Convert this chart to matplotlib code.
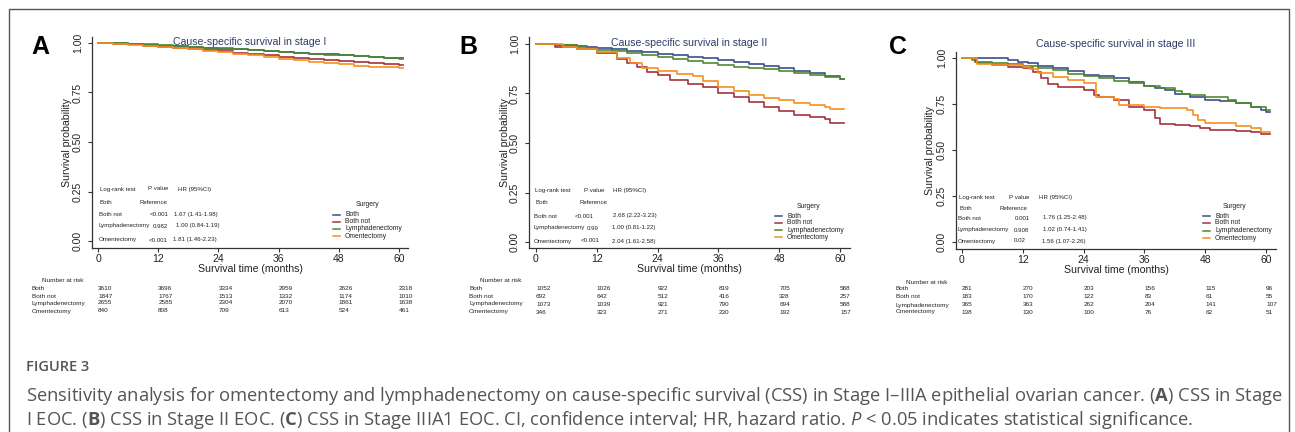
"""
Figure 3 recreation: cause-specific survival (CSS) by surgery group, stage I / II / III
Kaplan-Meier step curves + log-rank table + number-at-risk table (Stata look)
"""

import matplotlib.pyplot as plt
from matplotlib.lines import Line2D
from matplotlib.patches import Rectangle
from matplotlib.transforms import blended_transform_factory

plt.rcParams["font.family"] = ["Liberation Sans", "DejaVu Sans"]
plt.rcParams["mathtext.fontset"] = "custom"
plt.rcParams["mathtext.rm"] = "Open Sans"
plt.rcParams["mathtext.bf"] = "Open Sans:bold"
plt.rcParams["mathtext.it"] = "Open Sans:italic"

# ── 공통 ────────────────────────────────────────────────────────────────
GROUPS = ["Both", "Both not", "Lymphadenectomy", "Omentectomy"]
COLORS = {
    "Both":            "#3b4e8c",
    "Both not":        "#a3323f",
    "Lymphadenectomy": "#4f8a2d",
    "Omentectomy":     "#f5901e",
}
RISK_TIMES = [0, 12, 24, 36, 48, 60]
X_TICKS = [0, 12, 24, 36, 48, 60]
Y_TICKS = [0.0, 0.25, 0.5, 0.75, 1.0]

# ── Panel A: stage I ────────────────────────────────────────────────────
TITLE_A = "Cause-specific survival in stage I"
T_A = [0, 3, 6, 9, 12, 15, 18, 21, 24, 27, 30, 33, 36, 39, 42, 45, 48, 51, 54, 57, 60, 60.8]
S_A_BOTH  = [1, .998, .995, .991, .987, .983, .979, .975, .971, .967, .963, .958, .954, .950, .946, .942, .938, .934, .930, .926, .923, .922]
S_A_NOT   = [1, .997, .993, .987, .980, .975, .969, .963, .957, .951, .945, .938, .930, .923, .917, .912, .907, .902, .897, .893, .889, .888]
S_A_LYMPH = [1, .999, .997, .993, .989, .985, .981, .977, .973, .969, .965, .960, .955, .951, .946, .941, .937, .932, .928, .924, .920, .919]
S_A_OMEN  = [1, .997, .992, .986, .979, .973, .967, .960, .953, .946, .938, .930, .921, .913, .906, .899, .892, .886, .881, .877, .874, .872]
RISK_A = {
    "Both":            [3610, 3696, 3334, 2959, 2626, 2318],
    "Both not":        [1847, 1767, 1513, 1332, 1174, 1010],
    "Lymphadenectomy": [2655, 2585, 2304, 2070, 1861, 1638],
    "Omentectomy":     [840, 808, 709, 613, 524, 461],
}
P_A  = ["<0.001", "0.982", "<0.001"]
HR_A = ["1.67 (1.41-1.98)", "1.00 (0.84-1.19)", "1.81 (1.46-2.23)"]

# ── Panel B: stage II ───────────────────────────────────────────────────
TITLE_B = "Cause-specific survival in stage II"
T_B_BOTH  = [0, 4, 6, 8, 10, 12, 15, 18, 21, 24, 27, 30, 33, 36, 39, 42, 45, 48, 51, 54, 57, 60, 60.8]
S_B_BOTH  = [1, .997, .994, .990, .985, .978, .972, .965, .957, .949, .942, .935, .927, .919, .910, .899, .888, .877, .865, .851, .837, .825, .823]
T_B_LYMPH = [0, 4, 6, 8, 10, 12, 15, 18, 21, 24, 27, 30, 33, 36, 39, 42, 45, 48, 51, 54, 57, 60, 60.8]
S_B_LYMPH = [1, .996, .993, .987, .979, .970, .962, .952, .942, .933, .922, .912, .903, .894, .886, .879, .872, .865, .855, .845, .835, .825, .823]
T_B_NOT   = [0, 3.7, 8, 12, 16, 18, 20, 22, 24, 26.5, 30, 33, 36, 39, 42, 45, 48, 51, 54, 57, 58, 60.8]
S_B_NOT   = [1, .987, .973, .953, .923, .906, .886, .860, .843, .818, .798, .781, .751, .731, .709, .680, .662, .641, .630, .620, .603, .603]
T_B_OMEN  = [0, 5.4, 8, 12, 16, 18.5, 21, 24, 27.8, 31, 33, 36, 39, 42, 45, 48, 51, 54, 57, 58, 60.8]
S_B_OMEN  = [1, .987, .976, .961, .928, .902, .877, .865, .848, .838, .813, .785, .760, .742, .729, .717, .700, .690, .683, .673, .673]
RISK_B = {
    "Both":            [1052, 1026, 922, 819, 705, 588],
    "Both not":        [692, 642, 512, 416, 328, 257],
    "Lymphadenectomy": [1073, 1039, 921, 790, 694, 588],
    "Omentectomy":     [346, 323, 271, 230, 192, 157],
}
P_B  = ["<0.001", "0.99", "<0.001"]
HR_B = ["2.68 (2.22-3.23)", "1.00 (0.81-1.22)", "2.04 (1.61-2.58)"]

# ── Panel C: stage III ──────────────────────────────────────────────────
TITLE_C = "Cause-specific survival in stage III"
T_C_BOTH  = [0, 9, 11, 13, 15, 18, 21, 24, 27, 30, 33, 36, 38, 40, 42, 45, 48, 51, 54, 57, 59, 60, 60.8]
S_C_BOTH  = [1, .990, .980, .971, .955, .944, .930, .908, .900, .890, .868, .848, .840, .826, .804, .790, .772, .765, .754, .732, .720, .705, .705]
T_C_LYMPH = [0, 2, 3, 6, 9, 12, 15, 18, 21, 24, 27, 30, 33, 36, 39, 42, 43.5, 45, 48, 51, 52.5, 54, 57, 60, 60.8]
S_C_LYMPH = [1, .990, .980, .975, .967, .957, .947, .935, .915, .902, .890, .877, .862, .848, .835, .822, .805, .800, .790, .786, .772, .754, .732, .717, .717]
T_C_NOT   = [0, 2.5, 3, 6, 9, 12, 14, 15.5, 17, 19, 24, 26, 27, 30, 33, 36, 38, 39, 42, 45, 47, 49, 54, 57, 59, 60.8]
S_C_NOT   = [1, .980, .971, .962, .953, .944, .926, .890, .857, .841, .826, .800, .790, .772, .736, .717, .672, .641, .636, .630, .618, .609, .605, .600, .587, .587]
T_C_OMEN  = [0, 3, 6, 12, 13.5, 15, 18, 21, 24, 26.5, 30, 31, 36, 39, 44.5, 45.5, 46.5, 48, 54, 57, 59, 60.8]
S_C_OMEN  = [1, .967, .962, .953, .940, .920, .895, .880, .862, .790, .780, .745, .736, .726, .720, .690, .663, .649, .630, .618, .598, .598]
RISK_C = {
    "Both":            [281, 270, 203, 156, 115, 96],
    "Both not":        [183, 170, 122, 83, 61, 55],
    "Lymphadenectomy": [365, 363, 262, 204, 141, 107],
    "Omentectomy":     [138, 130, 100, 76, 62, 51],
}
P_C  = ["0.001", "0.908", "0.02"]
HR_C = ["1.76 (1.25-2.48)", "1.02 (0.74-1.41)", "1.56 (1.07-2.26)"]

CAPTION_HEAD = "FIGURE 3"
CAPTION_1 = ("Sensitivity analysis for omentectomy and lymphadenectomy on cause-specific survival (CSS) "
             "in Stage I\u2013IIIA epithelial ovarian cancer. ($\\mathbf{A}$) CSS in Stage")
CAPTION_2 = ("I EOC. ($\\mathbf{B}$) CSS in Stage II EOC. ($\\mathbf{C}$) CSS in Stage IIIA1 EOC. "
             "CI, confidence interval; HR, hazard ratio. $\\mathit{P}$ < 0.05 indicates statistical significance.")

# ── 레이아웃 (pixel 좌표) ──────────────────────────────────────────────────
W, H = 1295, 432

def fx(x):
    return x / W

def fy(y):
    return 1 - y / H

PANELS = [
    dict(letter="A", title=TITLE_A,
         curves=[(T_A, S_A_BOTH), (T_A, S_A_NOT), (T_A, S_A_LYMPH), (T_A, S_A_OMEN)],
         risk=RISK_A, p=P_A, hr=HR_A,
         box=(92, 37, 408, 248), xlim=(-1.2, 61.8), ylim=(-0.035, 1.030),
         letter_xy=(40, 47), title_y=42, xlabel_y=264, ylabel_x=67,
         risk_head=(63, 281), risk_lab_x=32, risk_rows=[288, 296, 303, 311],
         lr_rows=[189, 203, 215, 226, 240], lr_lab_x=100, lr_head_p=148, lr_head_hr=178,
         lr_ref_x=139, lr_p_x=[150, 153, 149], lr_hr_x=[174, 176, 173],
         leg_title=(367, 205), leg_x=333, leg_rows=[215, 222, 229, 236]),
    dict(letter="B", title=TITLE_B,
         curves=[(T_B_BOTH, S_B_BOTH), (T_B_NOT, S_B_NOT), (T_B_LYMPH, S_B_LYMPH), (T_B_OMEN, S_B_OMEN)],
         risk=RISK_B, p=P_B, hr=HR_B,
         box=(529, 37, 850, 248), xlim=(-1.38, 61.97), ylim=(-0.030, 1.035),
         letter_xy=(468, 47), title_y=43, xlabel_y=264, ylabel_x=505,
         risk_head=(501, 281), risk_lab_x=469, risk_rows=[289, 296, 304, 312],
         lr_rows=[190, 203, 216, 228, 241], lr_lab_x=535, lr_head_p=584, lr_head_hr=613,
         lr_ref_x=579, lr_p_x=[575, 587, 581], lr_hr_x=[613, 612, 612],
         leg_title=(808, 206), leg_x=775, leg_rows=[216, 223, 230, 237]),
    dict(letter="C", title=TITLE_C,
         curves=[(T_C_BOTH, S_C_BOTH), (T_C_NOT, S_C_NOT), (T_C_LYMPH, S_C_LYMPH), (T_C_OMEN, S_C_OMEN)],
         risk=RISK_C, p=P_C, hr=HR_C,
         box=(956, 52, 1276, 249), xlim=(-1.18, 61.97), ylim=(-0.038, 1.033),
         letter_xy=(898, 47), title_y=44, xlabel_y=265, ylabel_x=930,
         risk_head=(927, 282), risk_lab_x=896, risk_rows=[289, 297, 305, 312],
         lr_rows=[198, 209, 218, 230, 241], lr_lab_x=959, lr_head_p=1009, lr_head_hr=1039,
         lr_ref_x=1000, lr_p_x=[1015, 1014, 1014], lr_hr_x=[1043, 1043, 1042],
         leg_title=(1234, 206), leg_x=1203, leg_rows=[216, 223, 231, 238]),
]

TICK_FS = 7.5
LABEL_FS = 7.6
SMALL_FS = 4.6
LR_FS = 4.4
TEXT_C = "#222222"

fig = plt.figure(figsize=(W / 100, H / 100), dpi=100)
fig.patch.set_facecolor("white")

# 외곽 박스
fig.add_artist(Rectangle((fx(9), -0.1), fx(1289) - fx(9), fy(9) + 0.1,
                         transform=fig.transFigure, fill=False,
                         edgecolor="#555555", linewidth=1.0, clip_on=False))

for pn in PANELS:
    x0, y0, x1, y1 = pn["box"]
    ax = fig.add_axes([fx(x0), fy(y1), fx(x1) - fx(x0), fy(y0) - fy(y1)])
    ax.patch.set_alpha(0)

    for g, (t, s) in zip(GROUPS, pn["curves"]):
        ax.step(t, s, where="post", color=COLORS[g], linewidth=1.2)

    ax.set_xlim(*pn["xlim"])
    ax.set_ylim(*pn["ylim"])
    ax.set_xticks(X_TICKS)
    ax.set_yticks(Y_TICKS)
    ax.set_yticklabels([f"{v:.2f}" for v in Y_TICKS])
    ax.tick_params(direction="out", length=3, width=0.8, color="#333333",
                   labelsize=TICK_FS, labelcolor=TEXT_C)
    ax.tick_params(axis="x", pad=1.5)
    ax.tick_params(axis="y", pad=3.5)
    plt.setp(ax.get_yticklabels(), rotation=90, va="center")
    for side in ["top", "right"]:
        ax.spines[side].set_visible(False)
    for side in ["left", "bottom"]:
        ax.spines[side].set_color("#333333")
        ax.spines[side].set_linewidth(0.9)

    # 축 제목
    ax.set_xlabel("Survival time (months)", fontsize=LABEL_FS, color=TEXT_C)
    ax.xaxis.set_label_coords(0.5, -(pn["xlabel_y"] - y1) / (y1 - y0))
    ax.set_ylabel("Survival probability", fontsize=LABEL_FS, color=TEXT_C, va="center")
    ax.yaxis.set_label_coords(-(x0 - pn["ylabel_x"]) / (x1 - x0), 0.5)

    ax.text(0.5, (y1 - pn["title_y"]) / (y1 - y0), pn["title"], transform=ax.transAxes,
            ha="center", va="center", fontsize=LABEL_FS, color="#2e3b66")

    lx, ly = pn["letter_xy"]
    fig.text(fx(lx), fy(ly), pn["letter"], fontsize=18, fontweight="bold",
             ha="center", va="center", color="black", family="Liberation Sans")

    # log-rank 표
    r = pn["lr_rows"]
    fs = LR_FS
    fig.text(fx(pn["lr_lab_x"]), fy(r[0]), "Log-rank test", fontsize=fs, va="center", color=TEXT_C)
    fig.text(fx(pn["lr_head_p"]), fy(r[0]), "P value", fontsize=fs, va="center", color=TEXT_C)
    fig.text(fx(pn["lr_head_hr"]), fy(r[0]), "HR (95%CI)", fontsize=fs, va="center", color=TEXT_C)
    fig.text(fx(pn["lr_lab_x"]), fy(r[1]), "Both", fontsize=fs, va="center", color=TEXT_C)
    fig.text(fx(pn["lr_ref_x"]), fy(r[1]), "Reference", fontsize=fs, va="center", color=TEXT_C)
    for i, g in enumerate(GROUPS[1:]):
        fig.text(fx(pn["lr_lab_x"] - 1), fy(r[i + 2]), g, fontsize=fs, va="center", color=TEXT_C)
        fig.text(fx(pn["lr_p_x"][i]), fy(r[i + 2]), pn["p"][i], fontsize=fs, va="center", color=TEXT_C)
        fig.text(fx(pn["lr_hr_x"][i]), fy(r[i + 2]), pn["hr"][i], fontsize=fs, va="center", color=TEXT_C)

    # 범례 (Surgery)
    tx, tyy = pn["leg_title"]
    fig.text(fx(tx), fy(tyy), "Surgery", fontsize=SMALL_FS + 0.3, ha="center", va="center", color=TEXT_C)
    for g, ry in zip(GROUPS, pn["leg_rows"]):
        fig.add_artist(Line2D([fx(pn["leg_x"]), fx(pn["leg_x"] + 7)], [fy(ry), fy(ry)],
                              transform=fig.transFigure, color=COLORS[g], linewidth=1.1))
        fig.text(fx(pn["leg_x"] + 12), fy(ry), g, fontsize=SMALL_FS + 0.3, va="center", color=TEXT_C)

    # number at risk
    hx, hy = pn["risk_head"]
    fig.text(fx(hx), fy(hy), "Number at risk", fontsize=SMALL_FS, ha="center", va="center", color=TEXT_C)
    trans = blended_transform_factory(ax.transData, fig.transFigure)
    for g, ry in zip(GROUPS, pn["risk_rows"]):
        fig.text(fx(pn["risk_lab_x"]), fy(ry), g, fontsize=SMALL_FS, va="center", color=TEXT_C)
        for t, n in zip(RISK_TIMES, pn["risk"][g]):
            ax.text(t, fy(ry), str(n), transform=trans, fontsize=SMALL_FS, va="center",
                    ha="left", color=TEXT_C, clip_on=False)

# 캡션
fig.text(fx(26), fy(367), CAPTION_HEAD, fontsize=10.5, color="#555555",
         va="center", family="Open Sans", fontweight="semibold")
fig.text(fx(26), fy(396), CAPTION_1, fontsize=13.2, color="#555555", va="center", family="Open Sans")
fig.text(fx(26), fy(420), CAPTION_2, fontsize=13.2, color="#555555", va="center", family="Open Sans")

fig.savefig("out.png", dpi=100, facecolor="white")
